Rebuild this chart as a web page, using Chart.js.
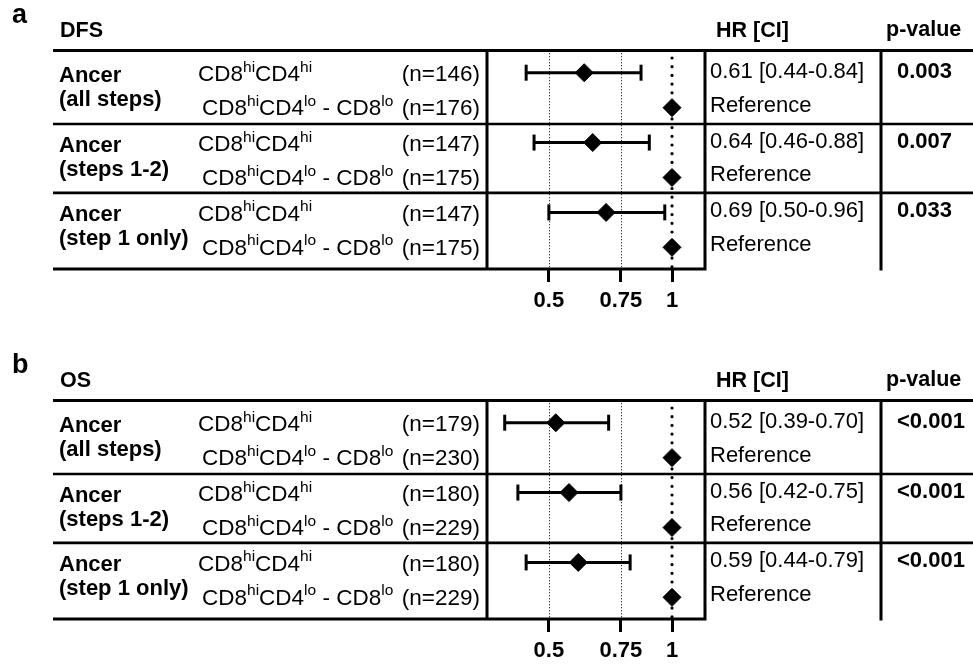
<!DOCTYPE html>
<html>
<head>
<meta charset="utf-8">
<title>DFS / OS forest plot</title>
<script src="https://cdn.jsdelivr.net/npm/chart.js@4.4.1/dist/chart.umd.min.js"></script>
<style>
  html, body { margin: 0; padding: 0; background: #fff; overflow: hidden; }
  .panel { position: absolute; left: 0; width: 973px; }
  #panel-a { top: 0; height: 350px; }
  #panel-b { top: 350px; height: 314px; }
</style>
</head>
<body>
<div class="panel" id="panel-a"><canvas id="chart-a"></canvas></div>
<div class="panel" id="panel-b"><canvas id="chart-b"></canvas></div>
<script>
// Tick labels of the HR axis
const xTicks = [0.5, 0.75, 1];

// Row labels, same in both panels
const groupTitles = ['Ancer', 'Ancer', 'Ancer'];
const groupSubtitles = ['(all steps)', '(steps 1-2)', '(step 1 only)'];

// DFS (panel a)
const dfsHR = [0.61, 0.64, 0.69];
const dfsLow = [0.44, 0.46, 0.50];
const dfsHigh = [0.84, 0.88, 0.96];
const dfsNHi = [146, 147, 147];
const dfsNLo = [176, 175, 175];
const dfsP = ['0.003', '0.007', '0.033'];

// OS (panel b)
const osHR = [0.52, 0.56, 0.59];
const osLow = [0.39, 0.42, 0.44];
const osHigh = [0.70, 0.75, 0.79];
const osNHi = [179, 180, 180];
const osNLo = [230, 229, 229];
const osP = ['<0.001', '<0.001', '<0.001'];

// HR of the reference group
const refHR = 1;

const FONT = '"Liberation Sans", Arial, Helvetica, sans-serif';

// draws text with superscript parts, parts = [[text, isSup], ...]
function drawRich(ctx, parts, x, y, size) {
    parts.forEach(([t, sup]) => {
        ctx.font = (sup ? size * 0.69 : size) + 'px ' + FONT;
        ctx.fillText(t, x, sup ? y - size * 0.42 : y);
        x += ctx.measureText(t).width;
    });
}

const lineHi = [['CD8'], ['hi', 1], ['CD4'], ['hi', 1]];
const lineLo = [['CD8'], ['hi', 1], ['CD4'], ['lo', 1], [' - CD8'], ['lo', 1]];

// dotted guide lines behind the marks
const guidePlugin = {
    id: 'guides',
    beforeDatasetsDraw(chart) {
        const { ctx, chartArea: a, scales: { x } } = chart;
        ctx.save();
        ctx.strokeStyle = '#333';
        ctx.lineWidth = 1;
        ctx.setLineDash([1.3, 1.7]);
        xTicks.filter(v => v !== refHR).forEach(v => {
            const px = Math.round(x.getPixelForValue(v)) + 0.5;
            ctx.beginPath();
            ctx.moveTo(px, a.top + 3);
            ctx.lineTo(px, a.bottom);
            ctx.stroke();
        });
        // reference line at HR = 1
        const px = x.getPixelForValue(refHR);
        ctx.strokeStyle = '#000';
        ctx.lineWidth = 3.2;
        ctx.lineCap = 'round';
        ctx.setLineDash([0, 8.7]);
        ctx.beginPath();
        ctx.moveTo(px, a.top + 8);
        ctx.lineTo(px, a.bottom);
        ctx.stroke();
        ctx.restore();
    }
};

// table lines and all the text around the plot
const tablePlugin = {
    id: 'forestTable',
    afterDraw(chart, args, opts) {
        const { ctx, chartArea: a, scales: { y } } = chart;
        const W = chart.width;
        const left = 53, splitHR = 881;
        ctx.save();
        ctx.fillStyle = '#000';
        ctx.textBaseline = 'alphabetic';

        // panel letter and headers
        ctx.font = 'bold 27px ' + FONT;
        ctx.fillText(opts.letter, 12, 23);
        ctx.font = 'bold 21.5px ' + FONT;
        ctx.fillText(opts.title, 60, 37);
        ctx.fillText('HR [CI]', 716, 37);
        ctx.fillText('p-value', 886, 36);

        // lines
        ctx.strokeStyle = '#000';
        ctx.lineWidth = 3;
        ctx.beginPath();
        ctx.moveTo(left, a.top + 0.5); ctx.lineTo(W, a.top + 0.5);
        ctx.moveTo(left, a.bottom); ctx.lineTo(a.right, a.bottom);
        [a.left, a.right, splitHR].forEach(px => {
            ctx.moveTo(px, a.top); ctx.lineTo(px, a.bottom + 1.5);
        });
        ctx.stroke();
        ctx.lineWidth = 2.6;
        ctx.beginPath();
        [1.47, 3.44].forEach(v => {
            const py = y.getPixelForValue(v);
            ctx.moveTo(left, py); ctx.lineTo(W, py);
        });
        ctx.stroke();

        // rows
        opts.hr.forEach((hr, i) => {
            const y1 = y.getPixelForValue(2 * i);
            const y2 = y.getPixelForValue(2 * i + 1);
            ctx.textAlign = 'left';
            ctx.font = 'bold 22px ' + FONT;
            ctx.fillText(groupTitles[i], 59, y1 + 9);
            ctx.fillText(groupSubtitles[i], 59, y1 + 33);

            drawRich(ctx, lineHi, 198, y1 + 8.5, 22.5);
            drawRich(ctx, lineLo, 202, y2 + 7.5, 22.5);
            ctx.font = '22.5px ' + FONT;
            ctx.textAlign = 'right';
            ctx.fillText('(n=' + opts.nHi[i] + ')', 480, y1 + 8.5);
            ctx.fillText('(n=' + opts.nLo[i] + ')', 480, y2 + 7.5);

            ctx.textAlign = 'left';
            ctx.font = '22px ' + FONT;
            const ci = hr.toFixed(2) + ' [' + opts.low[i].toFixed(2) + '-' + opts.high[i].toFixed(2) + ']';
            ctx.fillText(ci, 710, y1 + 5);
            ctx.fillText('Reference', 710, y2 + 4);
            ctx.font = 'bold 22px ' + FONT;
            ctx.fillText(opts.p[i], 897, y1 + 5);
        });
        ctx.restore();
    }
};

function buildDatasets(hr, low, high) {
    const sets = [];
    // HR diamonds
    sets.push({
        data: hr.map((v, i) => ({ x: v, y: 2 * i })),
        pointStyle: 'rectRot',
        pointRadius: 9,
        backgroundColor: '#000',
        borderColor: '#000',
        borderWidth: 1,
        order: 0
    });
    // reference diamonds
    sets.push({
        data: hr.map((v, i) => ({ x: refHR, y: 2 * i + 1 })),
        pointStyle: 'rectRot',
        pointRadius: 9,
        backgroundColor: '#000',
        borderColor: '#000',
        borderWidth: 1,
        order: 0
    });
    // confidence intervals with end caps
    hr.forEach((v, i) => {
        sets.push({
            data: [{ x: low[i], y: 2 * i }, { x: high[i], y: 2 * i }],
            showLine: true,
            borderColor: '#000',
            borderWidth: 3,
            pointStyle: 'line',
            pointRotation: 90,
            pointRadius: 8,
            pointBorderWidth: 3,
            pointBorderColor: '#000',
            order: 1
        });
    });
    return sets;
}

function makePanel(canvasId, canvasHeight, table) {
    const plotBottom = 269;
    new Chart(document.getElementById(canvasId), {
        type: 'scatter',
        data: { datasets: buildDatasets(table.hr, table.low, table.high) },
        options: {
            responsive: true,
            maintainAspectRatio: false,
            animation: false,
            events: [],
            devicePixelRatio: 1,
            layout: { padding: { left: 487, right: 268, top: 50, bottom: canvasHeight - plotBottom - 40 } },
            plugins: {
                legend: { display: false },
                tooltip: { enabled: false },
                forestTable: table
            },
            scales: {
                x: {
                    type: 'logarithmic',
                    min: 0.353,
                    max: 1.204,
                    afterBuildTicks: s => { s.ticks = xTicks.map(v => ({ value: v })); },
                    afterFit: s => { s.height = 40; },
                    ticks: {
                        callback: v => String(v),
                        color: '#000',
                        font: { family: FONT, size: 22, weight: 'bold' },
                        padding: 6,
                        maxRotation: 0,
                        autoSkip: false
                    },
                    grid: {
                        display: true,
                        drawOnChartArea: false,
                        drawTicks: true,
                        tickLength: 13,
                        tickWidth: 3,
                        tickColor: '#000'
                    },
                    border: { display: false }
                },
                y: {
                    type: 'linear',
                    reverse: true,
                    min: -0.65,
                    max: 5.62,
                    display: false
                }
            }
        },
        plugins: [guidePlugin, tablePlugin]
    });
}

window.addEventListener('load', () => {
    makePanel('chart-a', 350, {
        letter: 'a', title: 'DFS',
        hr: dfsHR, low: dfsLow, high: dfsHigh, nHi: dfsNHi, nLo: dfsNLo, p: dfsP
    });
    makePanel('chart-b', 314, {
        letter: 'b', title: 'OS',
        hr: osHR, low: osLow, high: osHigh, nHi: osNHi, nLo: osNLo, p: osP
    });
});
</script>
</body>
</html>
